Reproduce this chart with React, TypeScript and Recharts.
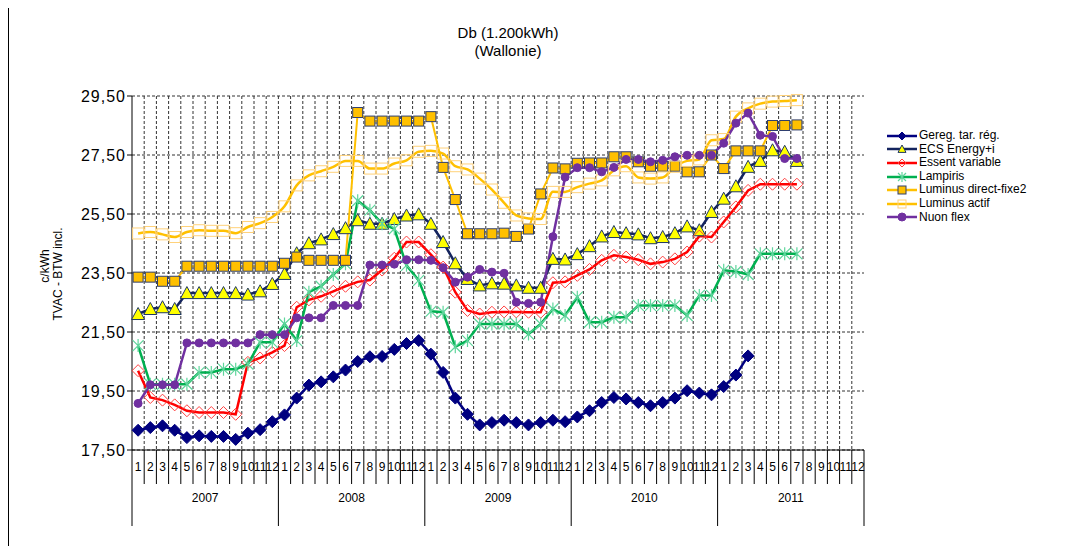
import React from "react";
import { LineChart, Line, XAxis, YAxis, CartesianGrid } from "recharts";

const years = ["2007", "2008", "2009", "2010", "2011"];
const months = ["1", "2", "3", "4", "5", "6", "7", "8", "9", "10", "11", "12"];
const yTicks = [17.5, 19.5, 21.5, 23.5, 25.5, 27.5, 29.5];

// c/kWh, one value per month from 2007-1 onwards
const gereg = [
  18.17, 18.26, 18.32, 18.17, 17.92, 17.98, 17.96, 17.96, 17.86, 18.07, 18.19, 18.46,
  18.69, 19.26, 19.7, 19.81, 19.98, 20.21, 20.5, 20.66, 20.67, 20.91, 21.11, 21.21,
  20.75, 20.13, 19.26, 18.71, 18.35, 18.43, 18.51, 18.43, 18.35, 18.43, 18.51, 18.46,
  18.62, 18.83, 19.11, 19.28, 19.23, 19.11, 19.0, 19.11, 19.26, 19.51, 19.43, 19.37,
  19.65, 20.04, 20.69,
];
const ecs = [
  22.11, 22.28, 22.34, 22.28, 22.82, 22.82, 22.82, 22.82, 22.82, 22.77, 22.88, 23.13,
  23.47, 24.17, 24.51, 24.64, 24.82, 25.02, 25.29, 25.17, 25.17, 25.33, 25.45, 25.49,
  25.17, 24.55, 23.83, 23.3, 23.08, 23.15, 23.14, 23.08, 23.0, 23.0, 23.98, 23.96,
  24.14, 24.41, 24.74, 24.89, 24.85, 24.81, 24.68, 24.72, 24.85, 25.08, 24.95, 25.57,
  26.02, 26.44, 27.1, 27.3, 27.66, 27.61, 27.3,
];
const essent = [
  20.19, 19.28, 19.19, 19.03, 18.83, 18.77, 18.77, 18.77, 18.71, 20.47, 20.62, 20.81,
  21.04, 22.34, 22.59, 22.71, 22.88, 23.05, 23.2, 23.26, 23.6, 24.0, 24.55, 24.55,
  24.12, 23.7, 22.85, 22.23, 22.11, 22.17, 22.18, 22.18, 22.17, 22.17, 23.17, 23.2,
  23.42, 23.62, 23.93, 24.1, 24.04, 23.95, 23.81, 23.87, 23.98, 24.21, 24.75, 24.72,
  25.23, 25.74, 26.3, 26.51, 26.51, 26.51, 26.51,
];
const lampiris = [
  21.04, 19.73, 19.73, 19.73, 19.73, 20.13, 20.13, 20.24, 20.24, 20.41, 21.15, 21.15,
  21.77, 21.21, 22.85, 23.05, 23.45, 23.81, 25.95, 25.63, 25.17, 25.0, 23.76, 23.25,
  22.2, 22.17, 21.0, 21.21, 21.77, 21.77, 21.77, 21.77, 21.43, 21.77, 22.28, 22.06,
  22.68, 21.83, 21.83, 22.0, 22.0, 22.4, 22.4, 22.4, 22.4, 22.06, 22.74, 22.74,
  23.59, 23.55, 23.45, 24.15, 24.15, 24.15, 24.15,
];
const luminusFixe = [
  23.36, 23.36, 23.22, 23.22, 23.73, 23.73, 23.73, 23.73, 23.73, 23.73, 23.73, 23.73,
  23.83, 24.04, 23.93, 23.93, 23.93, 23.93, 28.94, 28.65, 28.65, 28.65, 28.65, 28.65,
  28.8, 27.08, 25.99, 24.83, 24.83, 24.83, 24.85, 24.74, 24.99, 26.18, 27.06, 27.03,
  27.22, 27.23, 27.23, 27.44, 27.44, 27.27, 27.12, 27.12, 27.12, 26.93, 26.93, 27.5,
  27.04, 27.64, 27.64, 27.64, 28.5, 28.5, 28.52,
];
const luminusActif = [
  24.84, 24.89, 24.81, 24.72, 24.89, 24.95, 24.93, 24.93, 24.85, 25.06, 25.19, 25.4,
  25.76, 26.47, 26.81, 26.95, 27.1, 27.3, 27.3, 27.04, 27.04, 27.21, 27.32, 27.61,
  27.64, 27.55, 27.12, 27.01, 26.7, 26.33, 25.88, 25.45, 25.35, 25.33, 26.25, 26.25,
  26.41, 26.53, 26.64, 26.98, 27.12, 26.74, 26.7, 26.74, 27.1, 27.3, 27.35, 28.0,
  28.04, 28.8, 29.08, 29.24, 29.31, 29.33, 29.36,
];
const nuon = [
  19.08, 19.71, 19.71, 19.71, 21.13, 21.13, 21.13, 21.13, 21.13, 21.13, 21.41, 21.41,
  21.41, 21.98, 21.98, 21.98, 22.4, 22.4, 22.4, 23.77, 23.77, 23.8, 23.95, 23.95,
  23.93, 23.68, 23.19, 23.36, 23.62, 23.53, 23.49, 22.51, 22.47, 22.51, 24.73, 26.75,
  27.07, 27.07, 26.93, 27.08, 27.35, 27.35, 27.27, 27.32, 27.44, 27.49, 27.49, 27.49,
  27.9, 28.58, 28.92, 28.17, 28.13, 27.38, 27.38,
];

const rows = years.flatMap((year, yi) =>
  months.map((month, mi) => {
    const i = yi * 12 + mi;
    return {
      key: `${year}-${month}`,
      year,
      month,
      gereg: gereg[i] ?? null,
      ecs: ecs[i] ?? null,
      essent: essent[i] ?? null,
      lampiris: lampiris[i] ?? null,
      luminusFixe: luminusFixe[i] ?? null,
      luminusActif: luminusActif[i] ?? null,
      nuon: nuon[i] ?? null,
    };
  })
);

const series = [
  { key: "gereg", name: "Gereg. tar. rég.", color: "#000080", shape: "diamond", fill: "#000080", stroke: "#000080", size: 6, w: 2.5 },
  { key: "ecs", name: "ECS Energy+i", color: "#14245e", shape: "triangle", fill: "#ffff00", stroke: "#1f3864", size: 6.5, w: 2.5 },
  { key: "essent", name: "Essent variable", color: "#ff0000", shape: "diamond", fill: "none", stroke: "#ff4040", size: 6, w: 2.5 },
  { key: "lampiris", name: "Lampiris", color: "#00b050", shape: "star", fill: "none", stroke: "#5fd59c", size: 5.5, w: 2.5 },
  { key: "luminusFixe", name: "Luminus direct-fixe2", color: "#ffc000", shape: "square", fill: "#ffc000", stroke: "#2f3f6f", size: 5, w: 2 },
  { key: "luminusActif", name: "Luminus actif", color: "#ffc000", shape: "square", fill: "none", stroke: "#ffd27a", size: 5.5, w: 2.5, curve: true },
  { key: "nuon", name: "Nuon flex", color: "#7030a0", shape: "circle", fill: "#7030a0", stroke: "#7030a0", size: 4, w: 2.5 },
];

const FONT = "Arial, 'Liberation Sans', sans-serif";
const PLOT_W = 732;
const BW = PLOT_W / rows.length;

function shapeEl(s: any, x: number, y: number, sz: number, k?: string) {
  const sw = 1;
  if (s.shape === "diamond")
    return <polygon key={k} points={`${x},${y - sz} ${x + sz},${y} ${x},${y + sz} ${x - sz},${y}`} fill={s.fill} stroke={s.stroke} strokeWidth={sw} />;
  if (s.shape === "triangle")
    return <polygon key={k} points={`${x},${y - sz} ${x + sz},${y + sz * 0.85} ${x - sz},${y + sz * 0.85}`} fill={s.fill} stroke={s.stroke} strokeWidth={sw} />;
  if (s.shape === "square")
    return <rect key={k} x={x - sz} y={y - sz} width={sz * 2} height={sz * 2} fill={s.fill} stroke={s.stroke} strokeWidth={sw} />;
  if (s.shape === "star")
    return (
      <path key={k} d={`M${x - sz},${y - sz}L${x + sz},${y + sz}M${x - sz},${y + sz}L${x + sz},${y - sz}M${x},${y - sz - 1}L${x},${y + sz + 1}`} stroke={s.stroke} strokeWidth={1.2} fill="none" />
    );
  return <circle key={k} cx={x} cy={y} r={sz} fill={s.fill} stroke={s.stroke} />;
}

const makeDot = (s: any) => (props: any) => {
  const { cx, cy, index, value } = props;
  const k = `${s.key}-${index}`;
  if (cx == null || cy == null || value == null) return <g key={k} />;
  return shapeEl(s, cx, cy, s.size, k);
};

const MonthTick = (props: any) => {
  const { x, y } = props;
  const i = props.index ?? props.payload?.index ?? 0;
  const row = rows[i];
  const left = x - BW / 2;
  const yearStart = i % 12 === 0;
  return (
    <g>
      <line x1={left} x2={left} y1={y} y2={y + (yearStart ? 76 : 34)} stroke="#000" strokeWidth={1} />
      {i === rows.length - 1 && <line x1={x + BW / 2} x2={x + BW / 2} y1={y} y2={y + 76} stroke="#000" />}
      <text x={x} y={y + 21} textAnchor="middle" fontSize={12} fontFamily={FONT} fill="#000">
        {row.month}
      </text>
      {i % 12 === 5 && (
        <text x={x + BW / 2} y={y + 52} textAnchor="middle" fontSize={12} fontFamily={FONT} fill="#000">
          {row.year}
        </text>
      )}
    </g>
  );
};

const YLabel = () => (
  <g fontFamily={FONT} fontSize={12} fill="#000">
    <text transform="translate(40,258) rotate(-90)" textAnchor="middle">c/kWh</text>
    <text transform="translate(53,266) rotate(-90)" textAnchor="middle">TVAC - BTW incl.</text>
  </g>
);

function LegendBox() {
  return (
    <div style={{ position: "absolute", left: 878, top: 121, fontFamily: FONT, fontSize: 12, lineHeight: "13.6px" }}>
      {series.map((s) => (
        <div key={s.key} style={{ display: "flex", alignItems: "center", height: 13.6 }}>
          <svg width={30} height={12} style={{ marginRight: 2 }}>
            <line x1={0} x2={30} y1={6} y2={6} stroke={s.color} strokeWidth={2.5} />
            {shapeEl(s, 15, 6, Math.min(s.size, 4))}
          </svg>
          <span>{s.name}</span>
        </div>
      ))}
    </div>
  );
}

export default function App() {
  return (
    <div style={{ position: "relative", width: 1053, height: 538, borderLeft: "1px solid #000", borderRight: "1px solid #000", boxSizing: "border-box", background: "#fff" }}>
      <div style={{ position: "absolute", left: 0, top: 16, width: 998, textAlign: "center", fontFamily: FONT, fontSize: 15, lineHeight: "18px" }}>
        Db (1.200kWh)
        <br />
        (Wallonie)
      </div>
      <LineChart width={1051} height={530} data={rows} margin={{ top: 88, right: 196, left: 63, bottom: 8 }}>
        <CartesianGrid
          stroke="#333"
          strokeDasharray="3 2"
          verticalCoordinatesGenerator={({ offset }: any) =>
            rows.slice(1).map((_, i) => offset.left + ((i + 1) * offset.width) / rows.length)
          }
        />
        <XAxis
          dataKey="key"
          scale="band"
          interval={0}
          height={80}
          tickSize={0}
          tickMargin={0}
          tickLine={false}
          axisLine={{ stroke: "#000" }}
          tick={<MonthTick />}
        />
        <XAxis xAxisId="top" orientation="top" dataKey="key" scale="band" height={0} tick={false} tickLine={false} axisLine={{ stroke: "#000" }} />
        <YAxis
          domain={[17.5, 29.5]}
          ticks={yTicks}
          width={60}
          tickSize={5}
          tickMargin={1}
          axisLine={{ stroke: "#000" }}
          tickLine={{ stroke: "#000" }}
          tick={{ fill: "#000", fontSize: 16, fontFamily: FONT, letterSpacing: 1 }}
          tickFormatter={(v: number) => v.toFixed(2).replace(".", ",")}
        />
        <YAxis yAxisId="right" orientation="right" domain={[17.5, 29.5]} width={0} tick={false} tickLine={false} axisLine={{ stroke: "#000" }} />
        {series.map((s) => (
          <Line
            key={s.key}
            dataKey={s.key}
            name={s.name}
            type={s.curve ? "monotone" : "linear"}
            stroke={s.color}
            strokeWidth={s.w}
            dot={makeDot(s)}
            activeDot={false}
            isAnimationActive={false}
          />
        ))}
        <YLabel />
      </LineChart>
      <LegendBox />
    </div>
  );
}
